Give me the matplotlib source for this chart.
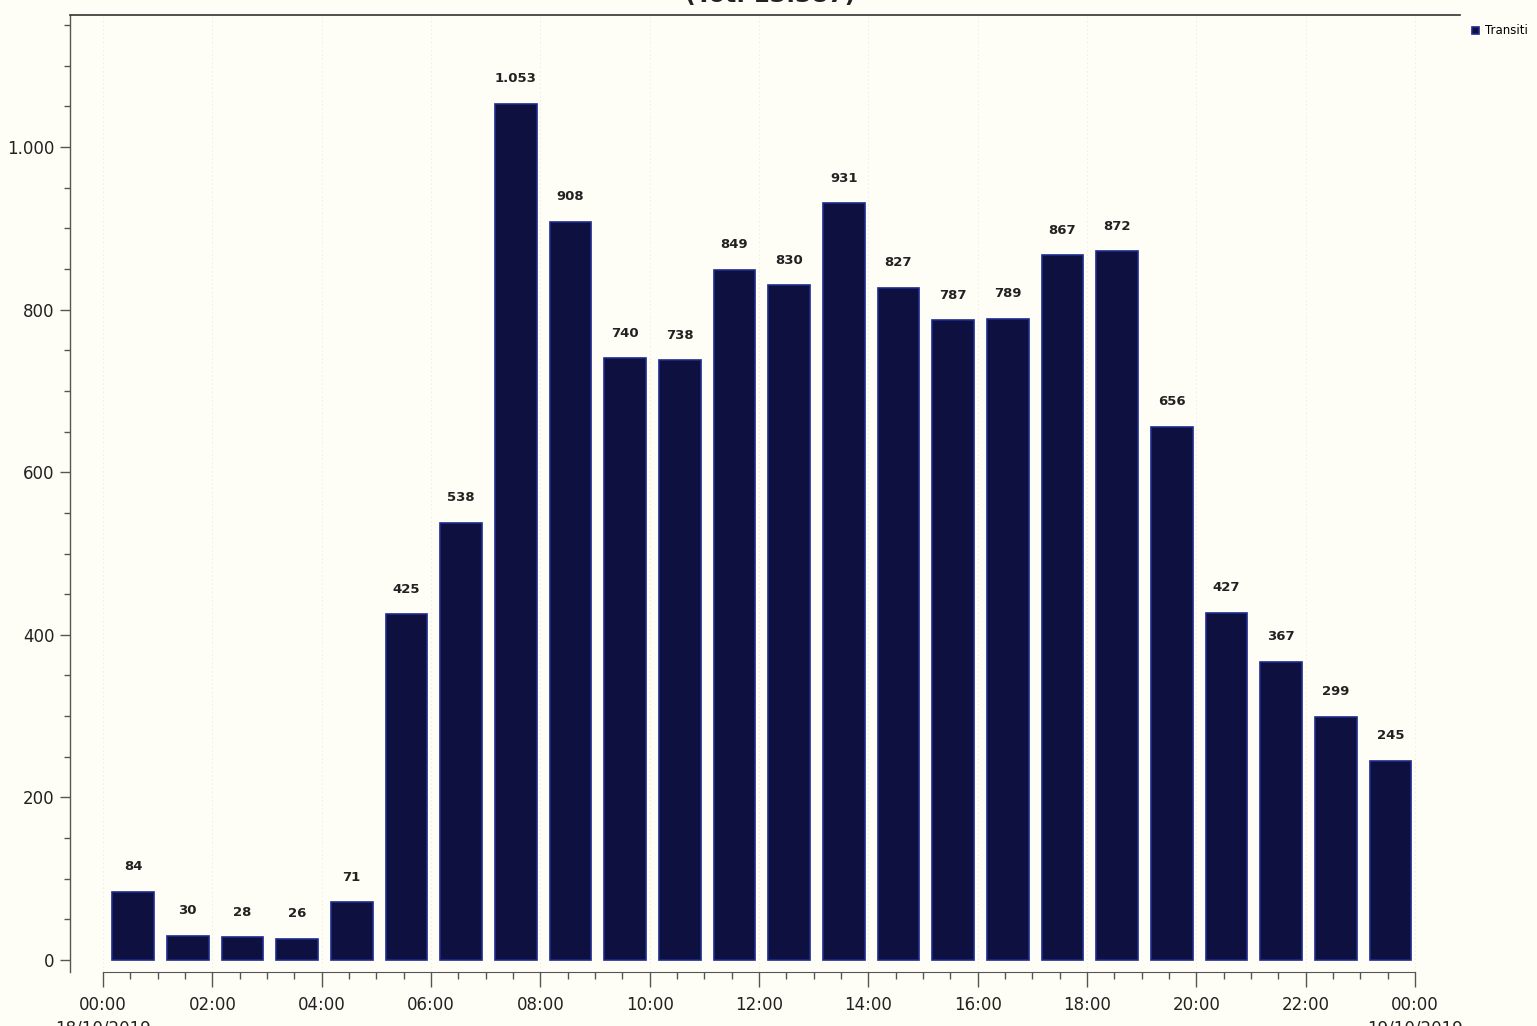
import matplotlib
matplotlib.use("Agg")
import matplotlib.pyplot as plt
from matplotlib.ticker import FixedLocator, MultipleLocator, FuncFormatter
import numpy as np

hours = list(range(24))
transiti = [84, 30, 28, 26, 71, 425, 538, 1053, 908, 740, 738, 849,
            830, 931, 827, 787, 789, 867, 872, 656, 427, 367, 299, 245]
xtick_labels = ["00:00\n18/10/2019", "02:00", "04:00", "06:00", "08:00", "10:00",
                "12:00", "14:00", "16:00", "18:00", "20:00", "22:00",
                "00:00\n19/10/2019"]
series_name = "Transiti"
total_label = "(Tot. 13.387)"

W, H = 1537, 1026
BG = "#fffef6"
BAR = "#0e1140"
EDGE = "#1c2a8c"
TXT = "#222222"

fig = plt.figure(figsize=(W / 100, H / 100), dpi=100, facecolor=BG)

# axes in pixel coordinates
left, right, top, bottom = 70, 1460, 15, 972
ax = fig.add_axes([left / W, 1 - bottom / H, (right - left) / W, (bottom - top) / H])
ax.set_facecolor(BG)

px_per_hour = (1415 - 103) / 24.0
x0 = (left - 103) / px_per_hour
x1 = (right - 103) / px_per_hour
ax.set_xlim(x0, x1)
zero_px = 960
px_per_unit = (960 - 147) / 1000.0
ax.set_ylim(-(bottom - zero_px) / px_per_unit, (zero_px - top) / px_per_unit)

xs = np.array(hours) + 0.55
bars = ax.bar(xs, transiti, width=0.76, color=BAR, edgecolor=EDGE,
              linewidth=1.2, label=series_name, zorder=3)

def fmt_it(v):
    return f"{int(v):,}".replace(",", ".")

for x, v in zip(xs, transiti):
    ax.annotate(fmt_it(v), (x, v), xytext=(0, 18), textcoords="offset points",
                ha="center", va="center", fontsize=9.5, fontweight="bold",
                color=TXT, zorder=4)

# spines
ax.spines["right"].set_visible(False)
ax.spines["top"].set_color("#333333")
ax.spines["top"].set_linewidth(1.2)
ax.spines["left"].set_color("#555555")
ax.spines["left"].set_linewidth(1.0)
ax.spines["bottom"].set_bounds(0, 24)
ax.spines["bottom"].set_color("#555555")

# y ticks
ax.yaxis.set_major_locator(FixedLocator([0, 200, 400, 600, 800, 1000]))
ax.yaxis.set_minor_locator(MultipleLocator(50))
ax.yaxis.set_major_formatter(FuncFormatter(lambda v, p: fmt_it(v)))
ax.tick_params(axis="y", which="major", length=7, width=1, color="#555555",
               labelsize=12, labelcolor=TXT, pad=4)
ax.tick_params(axis="y", which="minor", length=4, width=1, color="#555555")

# x ticks
ax.set_xticks(np.arange(0, 25, 2))
ax.set_xticks(np.arange(0, 24.01, 0.5), minor=True)
ax.set_xticklabels(xtick_labels, linespacing=1.45)
ax.tick_params(axis="x", which="major", length=11, width=1, color="#555555",
               labelsize=12, labelcolor=TXT, pad=6)
ax.tick_params(axis="x", which="minor", length=5, width=1, color="#555555")

# faint vertical grid
ax.grid(axis="x", which="major", color="#ebebe3", linewidth=0.6,
        linestyle=(0, (2, 3)), zorder=0)

# legend
ax.legend(handles=[bars], labels=[series_name], loc="center left",
          bbox_to_anchor=(1466 / W, 1 - 31 / H), bbox_transform=fig.transFigure,
          frameon=False, fontsize=8.5, handlelength=0.6, handleheight=0.6,
          handletextpad=0.5, borderpad=0)

# title (cut by the top edge, as in the source scan)
fig.text(770 / W, 1 - 7 / H, total_label, ha="center", va="bottom",
         fontsize=17, fontweight="bold", color=TXT)

fig.savefig("out.png", dpi=100, facecolor=BG)
